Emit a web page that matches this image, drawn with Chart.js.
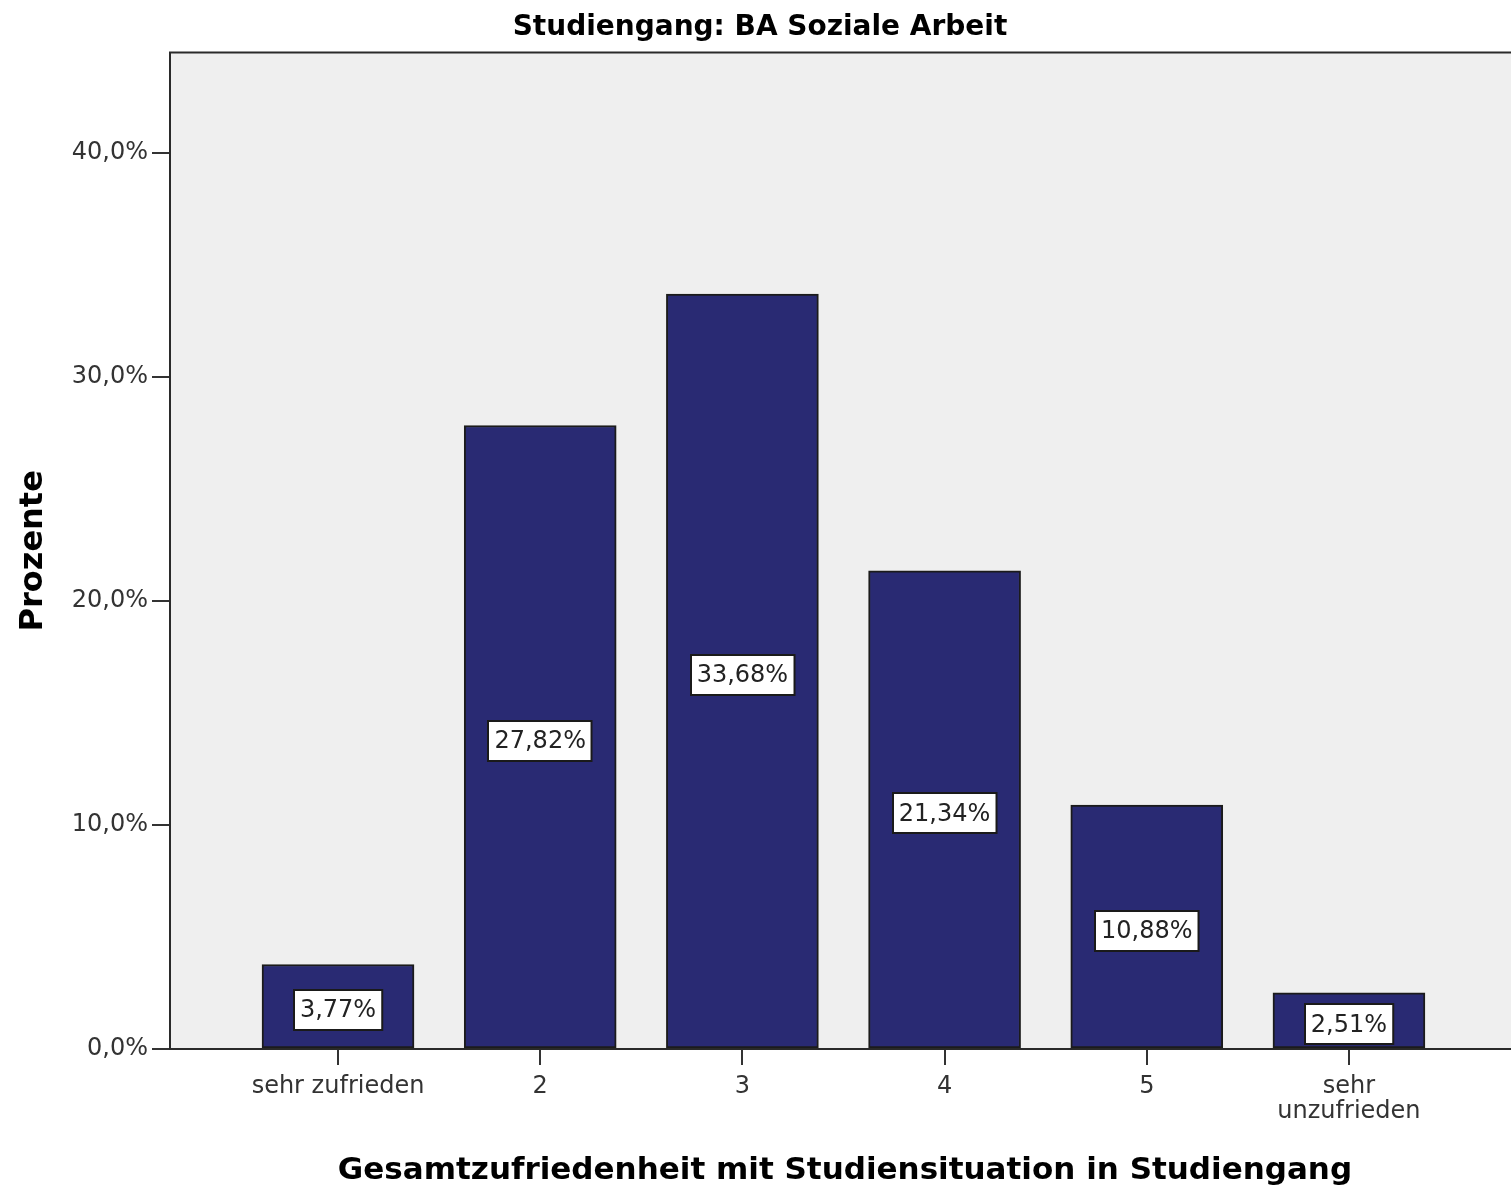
<!DOCTYPE html>
<html>
<head>
<meta charset="utf-8">
<script src="https://cdn.jsdelivr.net/npm/chart.js@4/dist/chart.umd.min.js"></script>
<style>
  html, body { margin: 0; padding: 0; background: #fff; }
  #wrap { width: 1511px; height: 1191px; overflow: hidden; }
</style>
</head>
<body>
<div id="wrap"><canvas id="c" width="1520" height="1191"></canvas></div>
<script>
// Werte
const categories = ['sehr zufrieden', '2', '3', '4', '5', ['sehr', 'unzufrieden']];
const percentages = [3.77, 27.82, 33.68, 21.34, 10.88, 2.51];
const valueLabels = ['3,77%', '27,82%', '33,68%', '21,34%', '10,88%', '2,51%'];
const yTicks = [0, 10, 20, 30, 40];

const barData = percentages.map((v, i) => ({ x: i, y: v }));

// grauer Hintergrund + Rahmen des Plotbereichs
const plotFrame = {
  id: 'plotFrame',
  beforeDraw(chart) {
    const { ctx, chartArea: a } = chart;
    ctx.save();
    ctx.fillStyle = '#efefef';
    ctx.fillRect(a.left, a.top, a.right - a.left, a.bottom - a.top);
    ctx.strokeStyle = '#2a2a2a';
    ctx.lineWidth = 2;
    ctx.beginPath();
    ctx.moveTo(a.left, a.bottom);
    ctx.lineTo(a.left, a.top);
    ctx.lineTo(a.right, a.top);
    ctx.stroke();
    ctx.restore();
  }
};

// Beschriftung in den Balken (weiße Kästchen)
const boxLabels = {
  id: 'boxLabels',
  afterDatasetsDraw(chart) {
    const { ctx } = chart;
    const bars = chart.getDatasetMeta(0).data;
    ctx.save();
    ctx.font = '24px "DejaVu Sans"';
    ctx.textAlign = 'center';
    ctx.textBaseline = 'middle';
    bars.forEach((bar, i) => {
      const txt = valueLabels[i];
      const w = ctx.measureText(txt).width + 12;
      const h = 40;
      const cy = (bar.y + bar.base) / 2 + 4;
      const x0 = Math.round(bar.x - w / 2), y0 = Math.round(cy - h / 2);
      ctx.fillStyle = '#fff';
      ctx.fillRect(x0, y0, w, h);
      ctx.strokeStyle = '#1a1a1a';
      ctx.lineWidth = 2;
      ctx.strokeRect(x0, y0, w, h);
      ctx.fillStyle = '#222';
      ctx.fillText(txt, bar.x, cy + 1);
    });
    ctx.restore();
  }
};

new Chart(document.getElementById('c'), {
  type: 'bar',
  data: {
    datasets: [{
      data: barData,
      backgroundColor: '#292a73',
      borderColor: '#1b1b1b',
      borderWidth: 2,
      borderSkipped: false,
      barThickness: 152
    }]
  },
  options: {
    responsive: false,
    animation: false,
    layout: { padding: 0 },
    scales: {
      x: {
        type: 'linear',
        offset: false,
        min: -0.831,
        max: 5.846,
        afterBuildTicks: s => { s.ticks = categories.map((c, i) => ({ value: i })); },
        afterFit: s => { s.height = 142; },
        border: { display: true, color: '#2a2a2a', width: 2 },
        grid: { offset: false, drawOnChartArea: false, drawTicks: true, tickLength: 16, color: '#333', lineWidth: 2 },
        ticks: {
          autoSkip: false,
          maxRotation: 0,
          padding: 9,
          color: '#333',
          font: { family: 'DejaVu Sans', size: 24, lineHeight: 1.05 },
          callback: v => categories[v]
        },
        title: {
          display: true,
          text: 'Gesamtzufriedenheit mit Studiensituation in Studiengang',
          color: '#000',
          font: { family: 'DejaVu Sans', size: 31, weight: 'bold' },
          padding: { top: 0, bottom: 1 }
        }
      },
      y: {
        min: 0,
        max: 44.46,
        afterBuildTicks: s => { s.ticks = yTicks.map(v => ({ value: v })); },
        afterFit: s => { s.width = 170; },
        border: { display: true, color: '#2a2a2a', width: 2 },
        grid: { drawOnChartArea: false, drawTicks: true, tickLength: 18, color: '#333', lineWidth: 2 },
        ticks: {
          padding: 4,
          color: '#333',
          font: { family: 'DejaVu Sans', size: 24 },
          callback: v => v.toFixed(1).replace('.', ',') + '%'
        },
        title: {
          display: true,
          text: 'Prozente',
          color: '#000',
          font: { family: 'DejaVu Sans', size: 32, weight: 'bold' },
          padding: { top: 14, bottom: 0 }
        }
      }
    },
    plugins: {
      legend: { display: false },
      tooltip: { enabled: false },
      title: {
        display: true,
        text: 'Studiengang: BA Soziale Arbeit',
        color: '#000',
        font: { family: 'DejaVu Sans', size: 28, weight: 'bold' },
        padding: { top: 11, bottom: 8 }
      }
    }
  },
  plugins: [plotFrame, boxLabels]
});
</script>
</body>
</html>
